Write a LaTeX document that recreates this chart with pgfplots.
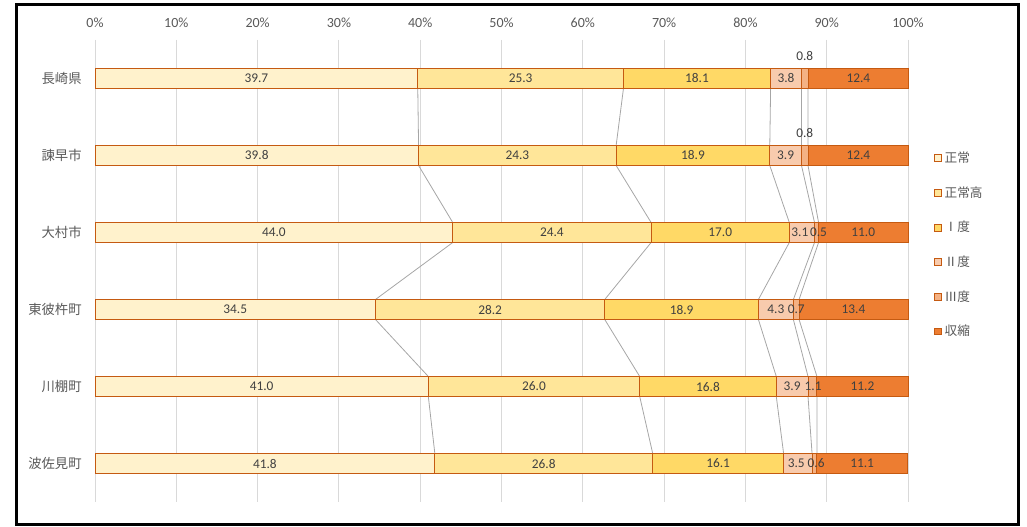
\documentclass[border=0pt]{standalone}
\usepackage{pgfplots}
\pgfplotsset{compat=1.18}
\usepackage{pgfplotstable}
\usepackage{fontspec}
\setmainfont{Carlito}
\newfontfamily\cjk{Noto Sans CJK JP}

\definecolor{cNorm}{HTML}{FFF2CC}
\definecolor{cHigh}{HTML}{FFE699}
\definecolor{cI}{HTML}{FFD966}
\definecolor{cII}{HTML}{F8CBAD}
\definecolor{cIII}{HTML}{F4B183}
\definecolor{cShr}{HTML}{ED7D31}
\definecolor{cEdge}{HTML}{C55A11}
\definecolor{txt}{HTML}{595959}
\definecolor{lbl}{HTML}{404040}
\definecolor{gridc}{HTML}{D9D9D9}
\definecolor{sline}{HTML}{A6A6A6}

% c = category index (0 = top row); values in percent
% dy/dx2/dx3: label offsets (pt) for the narrow II/III segments
\pgfplotstableread{
c  norm  high  g1    g2   g3   shr   dy    dxa   dxb
0  39.7  25.3  18.1  3.8  0.8  12.4  16.5  0     0
1  39.8  24.3  18.9  3.9  0.8  12.4  16.5  0     0
2  44.0  24.4  17.0  3.1  0.5  11.0  0     -1.5  1.5
3  34.5  28.2  18.9  4.3  0.7  13.4  0     0     0
4  41.0  26.0  16.8  3.9  1.1  11.2  0     0     0.5
5  41.8  26.8  16.1  3.5  0.6  11.1  0     -1.2  1.2
}\datatable

% series lines: segment boundaries at top / bottom edge of each bar
\pgfplotstableread{
y      b1    b2    b3    b4    b5
-0.13  39.7  65.0  83.1  86.9  87.7
 0.13  39.7  65.0  83.1  86.9  87.7
 0.87  39.8  64.1  83.0  86.9  87.7
 1.13  39.8  64.1  83.0  86.9  87.7
 1.87  44.0  68.4  85.4  88.5  89.0
 2.13  44.0  68.4  85.4  88.5  89.0
 2.87  34.5  62.7  81.6  85.9  86.6
 3.13  34.5  62.7  81.6  85.9  86.6
 3.87  41.0  67.0  83.8  87.7  88.8
 4.13  41.0  67.0  83.8  87.7  88.8
 4.87  41.8  68.6  84.7  88.2  88.8
 5.13  41.8  68.6  84.7  88.2  88.8
}\linetable

\pgfplotsset{
  base/.style={
    at={(71.25pt,18.75pt)}, anchor=south west,
    scale only axis, width=609.75pt, height=346.5pt,
    xmin=0, xmax=100, ymin=-0.5, ymax=5.5, y dir=reverse,
    axis line style={draw=none}, tick style={draw=none},
    major tick length=0pt,
  },
}

\begin{document}
\begin{tikzpicture}
% grid, ticks, series lines
\begin{axis}[base,
  axis x line*=top, axis y line*=left,
  axis line style={draw=none},
  xtick={0,10,...,100},
  xticklabel={\pgfmathprintnumber{\tick}\%},
  xticklabel style={font=\fontsize{10.5}{12}\selectfont, text=txt, yshift=6pt},
  /pgf/number format/assume math mode=true,
  ytick={0,...,5},
  yticklabels={長崎県,諫早市,大村市,東彼杵町,川棚町,波佐見町},
  yticklabel style={font=\fontsize{10}{12}\cjk, text=txt, xshift=-6.5pt},
  xmajorgrids, major grid style={gridc, line width=0.75pt},
]
\addplot[sline, line width=0.6pt] table[x=b1, y=y] {\linetable};
\addplot[sline, line width=0.6pt] table[x=b2, y=y] {\linetable};
\addplot[sline, line width=0.6pt] table[x=b3, y=y] {\linetable};
\addplot[sline, line width=0.6pt] table[x=b4, y=y] {\linetable};
\addplot[sline, line width=0.6pt] table[x=b5, y=y] {\linetable};
\end{axis}

% stacked bars
\begin{axis}[base,
  clip=false,
  xbar stacked, bar width=15pt,
  xtick=\empty, ytick=\empty,
  point meta=explicit,
  nodes near coords,
  nodes near coords style={font=\fontsize{10}{12}\selectfont, text=lbl,
    /pgf/number format/assume math mode=true,
    /pgf/number format/fixed, /pgf/number format/zerofill,
    /pgf/number format/precision=1},
  legend style={at={(1.027,0.77)}, anchor=north west, draw=none, fill=none,
    font=\fontsize{9.5}{11}\cjk, text=txt, row sep=12.5pt,
    legend cell align=left},
  legend image code/.code={\draw[#1, line width=0.6pt] (0pt,-2.6pt) rectangle (5.2pt,2.6pt);},
]
\addplot[fill=cNorm, draw=cEdge, line width=0.75pt] table[x=norm, y=c, meta=norm] {\datatable};
\addplot[fill=cHigh, draw=cEdge, line width=0.75pt] table[x=high, y=c, meta=high] {\datatable};
\addplot[fill=cI, draw=cEdge, line width=0.75pt] table[x=g1, y=c, meta=g1] {\datatable};
\addplot[fill=cII, draw=cEdge, line width=0.75pt,
  visualization depends on={\thisrow{dxa} \as \dxa},
  every node near coord/.append style={xshift=\dxa pt}] table[x=g2, y=c, meta=g2] {\datatable};
\addplot[fill=cIII, draw=cEdge, line width=0.75pt,
  visualization depends on={\thisrow{dy} \as \dy},
  visualization depends on={\thisrow{dxb} \as \dxb},
  every node near coord/.append style={yshift=\dy pt, xshift=\dxb pt}] table[x=g3, y=c, meta=g3] {\datatable};
\addplot[fill=cShr, draw=cEdge, line width=0.75pt] table[x=shr, y=c, meta=shr] {\datatable};
\legend{正常,正常高,Ⅰ度,Ⅱ度,Ⅲ度,収縮}
\end{axis}

\draw[line width=2.25pt] (12.6pt,1.5pt) rectangle (763.5pt,391.5pt);
\pgfresetboundingbox
\path[use as bounding box] (0pt,0pt) rectangle (770.25pt,395.25pt);
\end{tikzpicture}
\end{document}
